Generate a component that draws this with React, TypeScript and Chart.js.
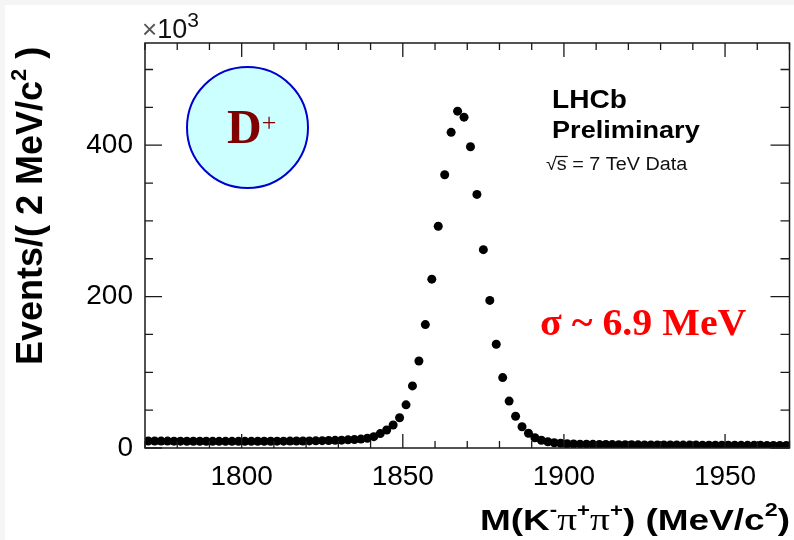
import React, { useEffect, useRef } from "react";
import { Chart, registerables } from "chart.js";

Chart.register(...registerables);

// ---- data (events in units of 10^3 per 2 MeV/c^2 bin) ----
const binCenters = [
  1771, 1773, 1775, 1777, 1779, 1781, 1783, 1785, 1787, 1789,
  1791, 1793, 1795, 1797, 1799, 1801, 1803, 1805, 1807, 1809,
  1811, 1813, 1815, 1817, 1819, 1821, 1823, 1825, 1827, 1829,
  1831, 1833, 1835, 1837, 1839, 1841, 1843, 1845, 1847, 1849,
  1851, 1853, 1855, 1857, 1859, 1861, 1863, 1865, 1867, 1869,
  1871, 1873, 1875, 1877, 1879, 1881, 1883, 1885, 1887, 1889,
  1891, 1893, 1895, 1897, 1899, 1901, 1903, 1905, 1907, 1909,
  1911, 1913, 1915, 1917, 1919, 1921, 1923, 1925, 1927, 1929,
  1931, 1933, 1935, 1937, 1939, 1941, 1943, 1945, 1947, 1949,
  1951, 1953, 1955, 1957, 1959, 1961, 1963, 1965, 1967, 1969,
];

const events = [
  9.3, 9.2, 9.1, 9.1, 9.0, 9.0, 8.9, 8.9, 8.9, 8.9,
  8.8, 8.8, 8.8, 8.8, 8.8, 8.8, 8.8, 8.9, 8.9, 8.9,
  9.0, 9.0, 9.1, 9.2, 9.3, 9.4, 9.5, 9.7, 9.9, 10.1,
  10.4, 10.8, 11.2, 11.8, 12.9, 15.0, 19.0, 23.8, 30.4, 40,
  57, 82, 115, 163, 223, 293, 361, 417, 445, 437,
  398, 335, 262, 195, 137, 93, 62, 42, 28, 19.5,
  13.5, 10.2, 8.2, 7.0, 6.2, 5.6, 5.3, 5.1, 4.9, 4.8,
  4.7, 4.6, 4.5, 4.4, 4.3, 4.3, 4.2, 4.1, 4.1, 4.0,
  4.0, 3.9, 3.9, 3.8, 3.8, 3.8, 3.7, 3.7, 3.7, 3.6,
  3.6, 3.6, 3.5, 3.5, 3.5, 3.5, 3.4, 3.4, 3.4, 3.4,
];

const xMajorTicks = [1800, 1850, 1900, 1950];
const xMinorTicks = [
  1770, 1780, 1790, 1800, 1810, 1820, 1830, 1840, 1850, 1860, 1870,
  1880, 1890, 1900, 1910, 1920, 1930, 1940, 1950, 1960, 1970,
];
const yMajorTicks = [0, 200, 400];
const yMinorTicks = [0, 50, 100, 150, 200, 250, 300, 350, 400, 450, 500];

const X_MIN = 1770;
const X_MAX = 1970;
const Y_MIN = 0;
const Y_MAX = 535;

const SANS = "'Liberation Sans', Arial, sans-serif";
const SERIF = "'Liberation Serif', 'Times New Roman', serif";

type Run = { t: string; font: string; dy?: number; color?: string };

function drawRuns(ctx: CanvasRenderingContext2D, runs: Run[], x: number, y: number, color: string, sx = 1) {
  ctx.save();
  ctx.translate(x, y);
  ctx.scale(sx, 1);
  ctx.textAlign = "left";
  ctx.textBaseline = "alphabetic";
  let cx = 0;
  for (const r of runs) {
    ctx.font = r.font;
    ctx.fillStyle = r.color || color;
    ctx.fillText(r.t, cx, r.dy || 0);
    cx += ctx.measureText(r.t).width;
  }
  ctx.restore();
  return cx * sx;
}

function runsWidth(ctx: CanvasRenderingContext2D, runs: Run[]) {
  let w = 0;
  ctx.save();
  for (const r of runs) {
    ctx.font = r.font;
    w += ctx.measureText(r.t).width;
  }
  ctx.restore();
  return w;
}

const decorPlugin = {
  id: "decor",
  beforeDraw(chart: any) {
    const ctx: CanvasRenderingContext2D = chart.ctx;
    ctx.save();
    ctx.fillStyle = "#f5f5f5";
    ctx.fillRect(0, 0, chart.width, chart.height);
    ctx.fillStyle = "#ffffff";
    ctx.fillRect(5, 5, chart.width - 5, chart.height - 5);
    ctx.restore();
  },
  afterDatasetsDraw(chart: any) {
    const ctx: CanvasRenderingContext2D = chart.ctx;
    const { left, right, top, bottom } = chart.chartArea;
    const xs = chart.scales.x;
    const ys = chart.scales.y;
    ctx.save();
    ctx.strokeStyle = "#1a1a1a";
    ctx.lineWidth = 1.5;
    ctx.strokeRect(left, top, right - left, bottom - top);
    ctx.lineWidth = 1.3;
    ctx.beginPath();
    for (const v of xMinorTicks) {
      const px = xs.getPixelForValue(v);
      const major = xMajorTicks.includes(v);
      const lb = major ? 14 : 7;
      const lt = major ? 14 : 7;
      ctx.moveTo(px, bottom);
      ctx.lineTo(px, bottom - lb);
      ctx.moveTo(px, top);
      ctx.lineTo(px, top + lt);
    }
    for (const v of yMinorTicks) {
      const py = ys.getPixelForValue(v);
      const major = yMajorTicks.includes(v);
      const ll = major ? 17 : 8;
      const lr = major ? 19 : 9;
      ctx.moveTo(left, py);
      ctx.lineTo(left + ll, py);
      ctx.moveTo(right, py);
      ctx.lineTo(right - lr, py);
    }
    ctx.stroke();
    ctx.restore();
  },
  afterDraw(chart: any) {
    const ctx: CanvasRenderingContext2D = chart.ctx;

    // x10^3 exponent label
    drawRuns(
      ctx,
      [
        { t: "\u00d7", font: `26px ${SANS}`, color: "#555" },
        { t: "10", font: `27px ${SANS}` },
        { t: "3", font: `21px ${SANS}`, dy: -11 },
      ],
      142,
      38,
      "#111"
    );

    // D+ badge
    ctx.save();
    ctx.beginPath();
    ctx.arc(247.5, 127.5, 60.5, 0, Math.PI * 2);
    ctx.fillStyle = "#ccffff";
    ctx.fill();
    ctx.lineWidth = 2;
    ctx.strokeStyle = "#0000cc";
    ctx.stroke();
    ctx.restore();
    drawRuns(
      ctx,
      [
        { t: "D", font: `bold 48px ${SERIF}` },
        { t: "+", font: `26px ${SERIF}`, dy: -12 },
      ],
      227,
      143,
      "#7f0000"
    );

    // LHCb labels
    drawRuns(ctx, [{ t: "LHCb", font: `bold 26px ${SANS}` }], 552, 107.5, "#000", 1.08);
    drawRuns(ctx, [{ t: "Preliminary", font: `bold 24px ${SANS}` }], 552, 137.5, "#000", 1.13);
    // sqrt(s) line
    const w1 = drawRuns(ctx, [{ t: "\u221a", font: `18px ${SANS}` }], 546, 170, "#111", 1.1);
    const sx0 = 546 + w1;
    const w2 = drawRuns(ctx, [{ t: "s", font: `18px ${SANS}` }], sx0, 170, "#111", 1.1);
    ctx.save();
    ctx.strokeStyle = "#111";
    ctx.lineWidth = 1.2;
    ctx.beginPath();
    ctx.moveTo(sx0 - 1, 156.5);
    ctx.lineTo(sx0 + w2 + 1, 156.5);
    ctx.stroke();
    ctx.restore();
    drawRuns(ctx, [{ t: " = 7 TeV Data", font: `18px ${SANS}` }], sx0 + w2, 170, "#111", 1.1);

    // sigma annotation
    drawRuns(ctx, [{ t: "\u03c3 ~ 6.9 MeV", font: `bold 38px ${SERIF}` }], 540, 335, "#ff0000", 1.05);

    // x-axis title
    const xt: Run[] = [
      { t: "M(K", font: `bold 30px ${SANS}` },
      { t: "-", font: `bold 18px ${SANS}`, dy: -14 },
      { t: "\u03c0", font: `32px ${SERIF}` },
      { t: "+", font: `bold 18px ${SANS}`, dy: -14 },
      { t: "\u03c0", font: `32px ${SERIF}` },
      { t: "+", font: `bold 18px ${SANS}`, dy: -14 },
      { t: ") (MeV/c", font: `bold 30px ${SANS}` },
      { t: "2", font: `bold 19px ${SANS}`, dy: -14 },
      { t: ")", font: `bold 30px ${SANS}` },
    ];
    const xw = runsWidth(ctx, xt);
    const xsx = 310 / xw;
    drawRuns(ctx, xt, 480, 530, "#000", xsx);

    // y-axis title (rotated)
    ctx.save();
    ctx.translate(42, 365);
    ctx.rotate(-Math.PI / 2);
    drawRuns(
      ctx,
      [
        { t: "Events/( 2 MeV/c", font: `bold 36px ${SANS}` },
        { t: "2", font: `bold 22px ${SANS}`, dy: -16 },
        { t: " )", font: `bold 36px ${SANS}` },
      ],
      0,
      0,
      "#000"
    );
    ctx.restore();
  },
};

export default function App() {
  const ref = useRef<HTMLCanvasElement | null>(null);

  useEffect(() => {
    document.body.style.margin = "0";
    const canvas = ref.current;
    if (!canvas) return;
    const points = binCenters.map((x, i) => ({ x, y: events[i] }));
    const chart = new Chart(canvas, {
      type: "scatter",
      data: {
        datasets: [
          {
            data: points,
            pointRadius: 4.5,
            pointHoverRadius: 4.5,
            pointBackgroundColor: "#000",
            pointBorderWidth: 0,
            showLine: false,
          },
        ],
      },
      options: {
        responsive: false,
        animation: false,
        events: [],
        devicePixelRatio: 1,
        layout: { padding: { left: 0, top: 43, right: 2, bottom: 0 } },
        plugins: {
          legend: { display: false },
          tooltip: { enabled: false },
        },
        scales: {
          x: {
            type: "linear",
            position: "bottom",
            min: X_MIN,
            max: X_MAX,
            grid: { display: false, drawTicks: false },
            border: { display: false },
            ticks: {
              font: { family: SANS, size: 28 },
              color: "#000",
              padding: 12,
              maxRotation: 0,
              autoSkip: false,
              callback: (v: any) => String(v),
            },
            afterBuildTicks: (s: any) => {
              s.ticks = xMajorTicks.map((v) => ({ value: v }));
            },
            afterFit: (s: any) => {
              s.height = 92;
            },
          },
          y: {
            type: "linear",
            position: "left",
            min: Y_MIN,
            max: Y_MAX,
            grid: { display: false, drawTicks: false },
            border: { display: false },
            ticks: {
              font: { family: SANS, size: 28 },
              color: "#000",
              padding: 12,
              autoSkip: false,
              callback: (v: any) => String(v),
            },
            afterBuildTicks: (s: any) => {
              s.ticks = yMajorTicks.map((v) => ({ value: v }));
            },
            afterFit: (s: any) => {
              s.width = 145;
            },
          },
        },
      } as any,
      plugins: [decorPlugin],
    });
    return () => chart.destroy();
  }, []);

  return (
    <div style={{ width: 794, height: 540 }}>
      <canvas ref={ref} width={794} height={540} style={{ display: "block", width: 794, height: 540 }} />
    </div>
  );
}
